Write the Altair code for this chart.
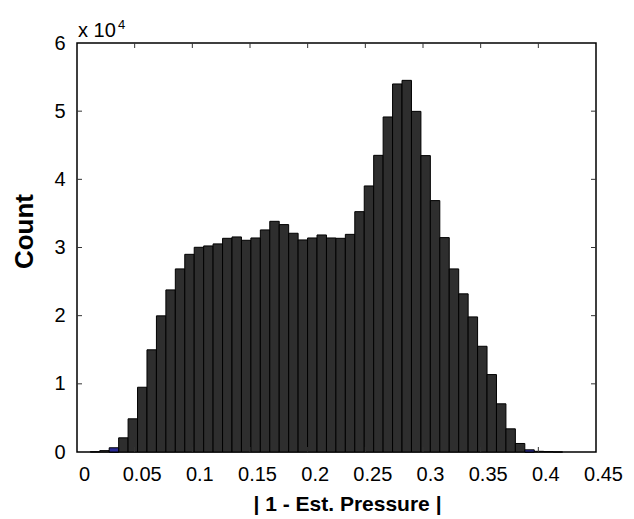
import altair as alt
import pandas as pd

# Histogram bins (uniform)
bin_start = 0.01154
bin_width = 0.00819
n_bins = 50

# Counts of the dark histogram, one per bin
counts = [30, 200, 0, 2080, 4870, 9500, 14990, 19970, 23780, 26860,
          29000, 30030, 30230, 30530, 31350, 31550, 31060, 31400, 32580, 33840,
          33360, 32090, 31110, 31400, 31840, 31400, 31350, 31930, 35260, 39030,
          43520, 49150, 53990, 54520, 49970, 43480, 36880, 31450, 26860, 23200,
          19820, 15510, 11360, 7070, 3400, 1250, 0, 100, 50, 0]

# Blue bins (index, count)
blue_bins = [2, 46]
blue_counts = [620, 320]

x_ticks = [0, 0.05, 0.1, 0.15, 0.2, 0.25, 0.3, 0.35, 0.4, 0.45]
y_ticks = [0, 10000, 20000, 30000, 40000, 50000, 60000]
x_inner_ticks = [0.05, 0.1, 0.15, 0.2, 0.25, 0.3, 0.35, 0.4]
y_inner_ticks = [10000, 20000, 30000, 40000, 50000]

W, H = 519, 409

bars = pd.DataFrame({
    "lo": [bin_start + i * bin_width for i in range(n_bins)],
    "hi": [bin_start + (i + 1) * bin_width for i in range(n_bins)],
    "count": counts,
    "base": [0] * n_bins,
})
blue = pd.DataFrame({
    "lo": [bin_start + i * bin_width for i in blue_bins],
    "hi": [bin_start + (i + 1) * bin_width for i in blue_bins],
    "count": blue_counts,
    "base": [0] * len(blue_bins),
})

xscale = alt.Scale(domain=[0, 0.45], nice=False, zero=False)
yscale = alt.Scale(domain=[0, 60000], nice=False)

xaxis = alt.Axis(values=x_ticks, format="~g", grid=False, ticks=False, tickSize=0,
                 labelFontSize=20, labelPadding=28, labelBaseline="alphabetic",
                 labelOffset=7, labelColor="black", labelFlush=False,
                 domain=False,
                 title="| 1 - Est. Pressure |", titleFontSize=21, titleFontWeight="bold",
                 titleX=270, titleY=58, titleBaseline="alphabetic", titleColor="black")
yaxis = alt.Axis(values=y_ticks, labelExpr="datum.value / 10000", grid=False,
                 ticks=False, tickSize=0, labelFontSize=20, labelPadding=12,
                 labelColor="black", labelFlush=False, domain=False,
                 title="Count", titleFontSize=26, titleFontWeight="bold",
                 titleAngle=270, titleX=-45, titleY=188, titleAlign="center",
                 titleBaseline="alphabetic", titleColor="black")

dark_layer = alt.Chart(bars).mark_rect(fill="#2e2e2e", stroke="black", strokeWidth=1).encode(
    x=alt.X("lo:Q", scale=xscale, axis=xaxis),
    x2="hi:Q",
    y=alt.Y("count:Q", scale=yscale, axis=yaxis),
    y2="base:Q",
)
blue_layer = alt.Chart(blue).mark_rect(fill="#2a2a96", stroke="black", strokeWidth=1).encode(
    x=alt.X("lo:Q", scale=xscale, axis=xaxis),
    x2="hi:Q",
    y=alt.Y("count:Q", scale=yscale, axis=yaxis),
    y2="base:Q",
)

xt = pd.DataFrame({"lo": x_inner_ticks})
yt = pd.DataFrame({"count": y_inner_ticks})

tick_color = "#333333"
xb = alt.Chart(xt).mark_rule(color=tick_color, strokeWidth=1).encode(
    x=alt.X("lo:Q", scale=xscale, axis=xaxis), y=alt.value(H), y2=alt.value(H - 5))
xtop = alt.Chart(xt).mark_rule(color=tick_color, strokeWidth=1).encode(
    x=alt.X("lo:Q", scale=xscale, axis=xaxis), y=alt.value(0), y2=alt.value(5))
yl = alt.Chart(yt).mark_rule(color=tick_color, strokeWidth=1).encode(
    y=alt.Y("count:Q", scale=yscale, axis=yaxis), x=alt.value(0), x2=alt.value(5))
yr = alt.Chart(yt).mark_rule(color=tick_color, strokeWidth=1).encode(
    y=alt.Y("count:Q", scale=yscale, axis=yaxis), x=alt.value(W), x2=alt.value(W - 5))

lab = pd.DataFrame({"t": ["x 10"]})
sup = pd.DataFrame({"t": ["4"]})
mult = alt.Chart(lab).mark_text(align="left", baseline="alphabetic", fontSize=20,
                                color="black").encode(
    text="t:N", x=alt.value(1), y=alt.value(-6))
mult_sup = alt.Chart(sup).mark_text(align="left", baseline="alphabetic", fontSize=13,
                                    color="black").encode(
    text="t:N", x=alt.value(41), y=alt.value(-14))

chart = alt.layer(dark_layer, blue_layer, xb, xtop, yl, yr, mult, mult_sup).properties(
    width=W, height=H,
    autosize=alt.AutoSizeParams(type="none"),
    padding={"left": 69, "top": 35, "right": 30, "bottom": 67},
).configure(font="Liberation Sans").configure_view(
    stroke="black", strokeWidth=1.5
)

chart.save("out.html", embed_options={"renderer": "svg", "actions": False})
